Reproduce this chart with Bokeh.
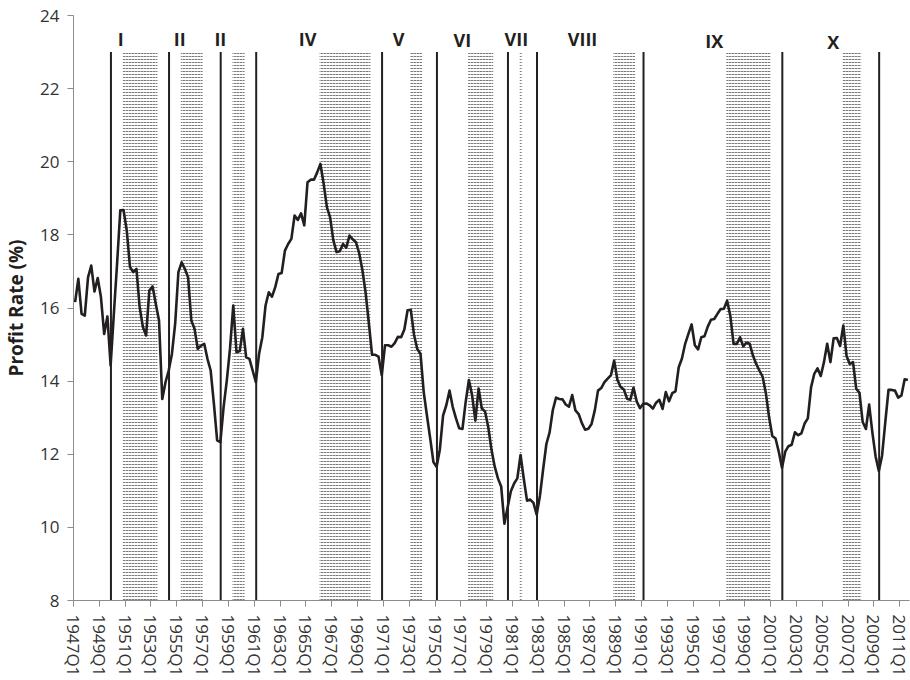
from bokeh.plotting import figure
from bokeh.models import Range1d, FixedTicker
from bokeh.embed import file_html
from bokeh.resources import INLINE
from bokeh.core.properties import value

# Quarterly profit rate (%) 1947Q1 .. 2011Q3
quarters = [f"{y}Q{q}" for y in range(1947, 2012) for q in range(1, 5)][:259]

profit_rate = [
    16.16, 16.80, 15.84, 15.79, 16.84, 17.16, 16.45, 16.82, 16.30, 15.29,
    15.77, 14.43, 15.84, 17.21, 18.67, 18.68, 18.12, 17.12, 16.98, 17.07,
    16.02, 15.48, 15.25, 16.48, 16.59, 16.11, 15.66, 13.51, 13.97, 14.29,
    14.75, 15.57, 16.98, 17.25, 17.07, 16.84, 15.66, 15.43, 14.88, 14.97,
    15.02, 14.61, 14.29, 13.38, 12.38, 12.33, 13.29, 14.02, 14.90, 16.07,
    14.79, 14.82, 15.43, 14.65, 14.61, 14.29, 13.97, 14.75, 15.20, 16.07,
    16.43, 16.31, 16.57, 16.93, 16.96, 17.57, 17.75, 17.89, 18.53, 18.41,
    18.59, 18.26, 19.44, 19.51, 19.51, 19.71, 19.94, 19.40, 18.76, 18.48,
    17.85, 17.53, 17.55, 17.75, 17.65, 17.98, 17.88, 17.80, 17.50, 17.04,
    16.42, 15.59, 14.72, 14.72, 14.67, 14.16, 14.98, 14.98, 14.94, 15.04,
    15.21, 15.20, 15.41, 15.94, 15.95, 15.27, 14.88, 14.75, 13.70, 13.06,
    12.44, 11.79, 11.66, 12.13, 13.06, 13.34, 13.74, 13.29, 12.98, 12.71,
    12.69, 13.43, 14.03, 13.61, 12.92, 13.80, 13.25, 13.17, 12.74, 12.12,
    11.66, 11.34, 11.12, 10.10, 10.55, 10.99, 11.20, 11.34, 11.98, 11.33,
    10.73, 10.76, 10.67, 10.35, 10.86, 11.59, 12.28, 12.60, 13.21, 13.55,
    13.51, 13.50, 13.36, 13.30, 13.62, 13.20, 13.10, 12.85, 12.67, 12.70,
    12.83, 13.20, 13.74, 13.81, 13.97, 14.07, 14.16, 14.56, 14.04, 13.84,
    13.77, 13.52, 13.49, 13.82, 13.44, 13.26, 13.38, 13.39, 13.34, 13.25,
    13.41, 13.49, 13.24, 13.70, 13.45, 13.67, 13.72, 14.38, 14.62, 15.02,
    15.29, 15.55, 14.98, 14.87, 15.20, 15.23, 15.49, 15.68, 15.70, 15.84,
    15.97, 15.98, 16.20, 15.78, 15.02, 15.02, 15.20, 14.95, 15.05, 15.02,
    14.70, 14.47, 14.29, 14.12, 13.67, 13.01, 12.50, 12.43, 12.07, 11.63,
    12.07, 12.22, 12.26, 12.60, 12.52, 12.57, 12.84, 12.98, 13.83, 14.20,
    14.35, 14.14, 14.52, 15.02, 14.52, 15.17, 15.18, 14.96, 15.52, 14.69,
    14.47, 14.52, 13.79, 13.68, 12.88, 12.69, 13.36, 12.59, 11.94, 11.54,
    11.96, 12.88, 13.76, 13.76, 13.74, 13.55, 13.61, 14.05, 14.03,
]

tick_labels = ["1947Q1", "1949Q1", "1951Q1", "1953Q1", "1955Q1", "1957Q1",
               "1959Q1", "1961Q1", "1963Q1", "1965Q1", "1967Q1", "1969Q1",
               "1971Q1", "1973Q1", "1975Q1", "1977Q1", "1979Q1", "1981Q1",
               "1983Q1", "1985Q1", "1987Q1", "1989Q1", "1991Q1", "1993Q1",
               "1995Q1", "1997Q1", "1999Q1", "2001Q1", "2003Q1", "2005Q1",
               "2007Q1", "2009Q1", "2011Q1"]

# cycle boundaries (troughs) and shaded periods
trough_quarters = ["1949Q4", "1954Q2", "1958Q2", "1961Q1", "1970Q4", "1975Q1",
                   "1980Q3", "1982Q4", "1991Q1", "2001Q4", "2009Q2"]
shade_start = ["1950Q4", "1955Q2", "1959Q2", "1966Q1", "1973Q1", "1977Q3",
               "1981Q3", "1988Q4", "1997Q3", "2006Q3"]
shade_end = ["1953Q2", "1956Q4", "1960Q1", "1969Q4", "1973Q4", "1979Q2",
             "1981Q3", "1990Q2", "2000Q4", "2007Q4"]

cycle_labels = ["I", "II", "II", "IV", "V", "VI", "VII", "VIII", "IX", "X"]
cycle_label_x = [14.6, 32.9, 45.5, 72.5, 100.7, 120.5, 137.2, 157.7, 198.5, 235.4]
cycle_label_y = [23.37, 23.37, 23.37, 23.37, 23.37, 23.33, 23.37, 23.37, 23.3, 23.28]

FONT = "Open Sans"
INK = "#231f20"

qi = {q: i for i, q in enumerate(quarters)}
xs = [i + 0.5 for i in range(len(profit_rate))]
vline_x = [qi[q] + 0.6 for q in trough_quarters]
sh_left = [qi[q] + 0.25 for q in shade_start]
sh_right = [qi[q] + 1.0 for q in shade_end]

p = figure(width=910, height=680, output_backend="svg", toolbar_location=None,
           x_range=Range1d(0, 259), y_range=Range1d(8, 24),
           min_border_left=73, min_border_right=1, min_border_top=15,
           min_border_bottom=80)
p.outline_line_color = None
p.xgrid.grid_line_color = None
p.ygrid.grid_line_color = None
p.background_fill_color = "white"

p.quad(left=sh_left, right=sh_right, bottom=8, top=23,
       fill_alpha=0, line_alpha=0,
       hatch_pattern="horizontal_dash", hatch_color="#7a7a7a",
       hatch_scale=3, hatch_weight=1)

p.segment(x0=vline_x, y0=8, x1=vline_x, y1=23, line_width=2, line_color=INK)

p.line(xs, profit_rate, line_width=2.6, line_color=INK, line_join="round")

p.text(x=cycle_label_x, y=cycle_label_y, text=cycle_labels,
       text_font=value(FONT), text_font_style="bold", text_font_size="18px",
       text_align="center", text_baseline="middle", text_color=INK)

# axes
ax = p.xaxis[0]
ax.ticker = FixedTicker(ticks=[qi[t] for t in tick_labels])
ax.major_label_overrides = {qi[t]: t for t in tick_labels}
ax.major_label_orientation = "vertical"
ax.major_label_text_font = FONT
ax.major_label_text_font_size = "17px"
ax.major_label_text_color = "#333333"
ax.axis_line_color = "#8c8c8c"
ax.major_tick_line_color = "#8c8c8c"
ax.major_tick_out = 6
ax.major_tick_in = 0
ax.minor_tick_line_color = None
ax.major_label_standoff = 8

ay = p.yaxis[0]
ay.ticker = FixedTicker(ticks=[8, 10, 12, 14, 16, 18, 20, 22, 24])
ay.major_label_text_font = FONT
ay.major_label_text_font_size = "17px"
ay.major_label_text_color = "#333333"
ay.axis_line_color = "#8c8c8c"
ay.major_tick_line_color = "#8c8c8c"
ay.major_tick_out = 6
ay.major_tick_in = 0
ay.minor_tick_line_color = None
ay.major_label_standoff = 8
ay.axis_label = "Profit Rate (%)"
ay.axis_label_text_font = FONT
ay.axis_label_text_font_style = "bold"
ay.axis_label_text_font_size = "19px"
ay.axis_label_text_color = INK
ay.axis_label_standoff = 8

open("out.html", "w").write(file_html(p, INLINE))
